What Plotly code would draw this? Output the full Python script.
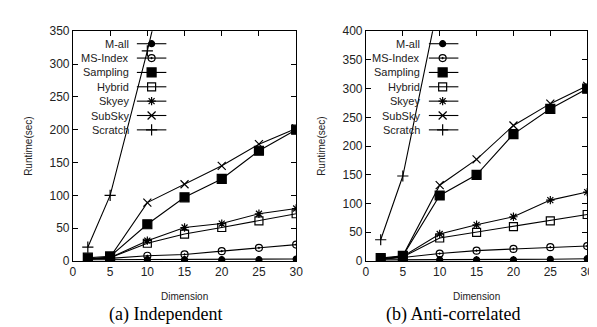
import plotly.graph_objects as go

W, H = 597, 327

dims = [2, 5, 10, 15, 20, 25, 30]
series_names = ["M-all", "MS-Index", "Sampling", "Hybrid", "Skyey", "SubSky", "Scratch"]

# (a) Independent
ind_mall = [2, 2, 2, 2, 2, 2, 3]
ind_msindex = [3, 4, 8, 10, 15, 20, 25]
ind_sampling = [5, 7, 56, 97, 125, 168, 200]
ind_hybrid = [3, 5, 27, 41, 51, 61, 72]
ind_skyey = [3, 5, 31, 51, 57, 72, 80]
ind_subsky = [3, 6, 89, 117, 145, 178, 202]
ind_scratch = [21, 100, 320, 560, None, None, None]

# (b) Anti-correlated
anti_mall = [2, 2, 2, 2, 2, 3, 4]
anti_msindex = [3, 6, 13, 18, 21, 24, 26]
anti_sampling = [5, 9, 114, 150, 221, 265, 300]
anti_hybrid = [3, 7, 40, 50, 60, 70, 81]
anti_skyey = [3, 8, 47, 63, 77, 106, 120]
anti_subsky = [3, 9, 132, 177, 236, 274, 305]
anti_scratch = [37, 148, 460, None, None, None, None]

ind_series = [ind_mall, ind_msindex, ind_sampling, ind_hybrid, ind_skyey, ind_subsky, ind_scratch]
anti_series = [anti_mall, anti_msindex, anti_sampling, anti_hybrid, anti_skyey, anti_subsky, anti_scratch]

x_ticks = [0, 5, 10, 15, 20, 25, 30]
captions = ["(a) Independent", "(b) Anti-correlated"]

# styles
symbols = ["circle", "circle-open-dot", "square", "square-open", "asterisk-open", "x-thin-open", "cross-thin-open"]
sizes = [6, 7, 9, 8, 7, 8, 8]

# layout in pixels
plots = [
    dict(x0=63, x1=290, y0=17, y1=257, ymax=350, leg_text=122, leg_l=128, leg_m=143, leg_r=158, cap_x=157),
    dict(x0=361, x1=586, y0=17, y1=257, ymax=400, leg_text=418, leg_l=425, leg_m=439, leg_r=455, cap_x=450),
]
leg_top, leg_step = 30, 15

def px(x):
    return x / W

def py(y):
    return 1 - y / H

fig = go.Figure()
annotations = []
all_series = [ind_series, anti_series]
axis_font = dict(family="Liberation Sans", size=12, color="#222")

for i, p in enumerate(plots):
    xa = "x" if i == 0 else "x2"
    ya = "y" if i == 0 else "y2"
    for name, vals, sym, sz in zip(series_names, all_series[i], symbols, sizes):
        fig.add_trace(go.Scatter(
            x=dims, y=vals, mode="lines+markers", name=name, xaxis=xa, yaxis=ya,
            line=dict(color="black", width=1.1),
            marker=dict(symbol=sym, size=sz, color="black", line=dict(color="black", width=1.2)),
            showlegend=False, cliponaxis=True))
    axkw = dict(showline=True, linecolor="black", linewidth=1, mirror="allticks",
                ticks="inside", ticklen=5, tickcolor="black", showgrid=False,
                zeroline=False, tickfont=axis_font)
    xkey = "xaxis" if i == 0 else "xaxis2"
    ykey = "yaxis" if i == 0 else "yaxis2"
    fig.update_layout(**{
        xkey: dict(domain=[px(p["x0"]), px(p["x1"])], range=[0, 30], tickvals=x_ticks,
                   anchor=ya, **axkw),
        ykey: dict(domain=[py(p["y1"]), py(p["y0"])], range=[0, p["ymax"]], dtick=50,
                   anchor=xa, **axkw),
    })
    # legend (gnuplot style: text, then sample)
    for k, (name, sym, sz) in enumerate(zip(series_names, symbols, sizes)):
        yy = leg_top + k * leg_step
        fig.add_trace(go.Scatter(x=[p["leg_l"], p["leg_r"]], y=[yy, yy], mode="lines",
                                 line=dict(color="black", width=1.1), xaxis="x3", yaxis="y3",
                                 showlegend=False, hoverinfo="skip"))
        fig.add_trace(go.Scatter(x=[p["leg_m"]], y=[yy], mode="markers",
                                 marker=dict(symbol=sym, size=sz, color="black",
                                             line=dict(color="black", width=1.2)),
                                 xaxis="x3", yaxis="y3", showlegend=False, hoverinfo="skip"))
        annotations.append(dict(x=px(p["leg_text"]), y=py(yy), xref="paper", yref="paper",
                                text=name, showarrow=False, xanchor="right", yanchor="middle",
                                font=dict(family="Liberation Sans", size=11, color="#222")))
    cx = (p["x0"] + p["x1"]) / 2
    annotations.append(dict(x=px(cx), y=py(294), xref="paper", yref="paper", text="Dimension",
                            showarrow=False, xanchor="center", yanchor="middle",
                            font=dict(family="Liberation Sans", size=10, color="#222")))
    annotations.append(dict(x=px(p["cap_x"]), y=py(313), xref="paper", yref="paper", text=captions[i],
                            showarrow=False, xanchor="center", yanchor="middle",
                            font=dict(family="Liberation Serif", size=18, color="black")))
    annotations.append(dict(x=px(p["x0"] - 46), y=py((p["y0"] + p["y1"]) / 2), xref="paper", yref="paper",
                            text="Runtime(sec)", showarrow=False, textangle=-90,
                            xanchor="center", yanchor="middle",
                            font=dict(family="Liberation Sans", size=10, color="#222")))

fig.update_layout(
    xaxis3=dict(domain=[0, 1], range=[0, W], visible=False, anchor="y3"),
    yaxis3=dict(domain=[0, 1], range=[H, 0], visible=False, anchor="x3"),
    width=W, height=H, margin=dict(l=0, r=0, t=0, b=0),
    paper_bgcolor="white", plot_bgcolor="rgba(0,0,0,0)",
    annotations=annotations, showlegend=False,
)

fig.write_html("out.html")
